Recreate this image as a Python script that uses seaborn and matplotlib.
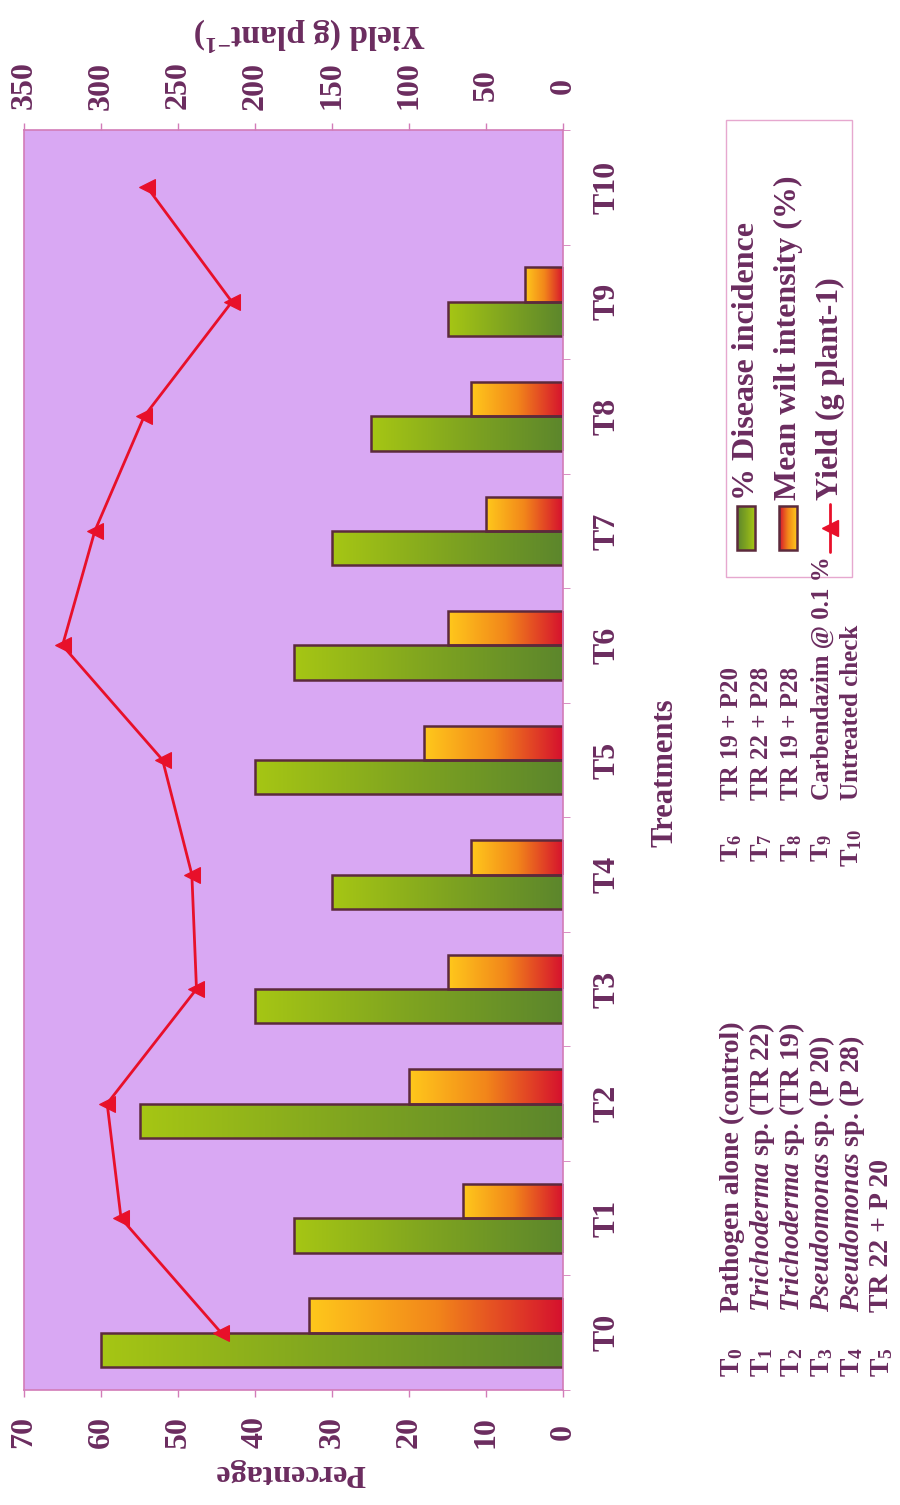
import matplotlib
matplotlib.use('Agg')
import matplotlib.pyplot as plt
import seaborn as sns
import numpy as np
import pandas as pd
from matplotlib.colors import LinearSegmentedColormap, to_rgba
from matplotlib.patches import Rectangle

treatments = ["T0", "T1", "T2", "T3", "T4", "T5", "T6", "T7", "T8", "T9", "T10"]
disease_incidence = [60, 35, 55, 40, 30, 40, 35, 30, 25, 15, 0]
wilt_intensity = [33, 13, 20, 15, 12, 18, 15, 10, 12, 5, 0]
yield_g = [222, 287, 296, 238, 241, 260, 325, 304, 272, 215, 270]

pct_ticks = [0, 10, 20, 30, 40, 50, 60, 70]
yield_ticks = [0, 50, 100, 150, 200, 250, 300, 350]

series_names = ["% Disease incidence", "Mean wilt intensity (%)", "Yield (g plant-1)"]

foot_left_ids = ["0", "1", "2", "3", "4", "5"]
foot_left_txt = ["Pathogen alone (control)",
                 r"$\mathit{Trichoderma}$ sp. (TR 22)",
                 r"$\mathit{Trichoderma}$ sp. (TR 19)",
                 r"$\mathit{Pseudomonas}$ sp. (P 20)",
                 r"$\mathit{Pseudomonas}$ sp. (P 28)",
                 "TR 22 + P 20"]
foot_right_ids = ["6", "7", "8", "9", "10"]
foot_right_txt = ["TR 19 + P20", "TR 22 + P28", "TR 19 + P28",
                  "Carbendazim @ 0.1 %", "Untreated check"]

# --- style ---
sns.set_style("white")
plt.rcParams['font.family'] = ['Liberation Serif', 'DejaVu Serif']
plt.rcParams['font.weight'] = 'bold'
plt.rcParams['mathtext.fontset'] = 'custom'
plt.rcParams['mathtext.rm'] = 'Liberation Serif:bold'
plt.rcParams['mathtext.bf'] = 'Liberation Serif:bold'
plt.rcParams['mathtext.it'] = 'Liberation Serif:italic:bold'

TXT = '#6b2c5f'
EDGE = '#5c2a3c'
FRAME = '#d27cb8'
BG = '#d9a8f3'
RED = '#e8102a'

green_cmap = LinearSegmentedColormap.from_list('g', ['#5c862c', '#7fa420', '#a6c614'])
orange_cmap = LinearSegmentedColormap.from_list('o', ['#d5102e', '#f2861a', '#ffc81c'])
GREEN_KEY = '#7fa520'
ORANGE_KEY = '#f08a10'

df = pd.DataFrame({
    'treatment': treatments * 2,
    'value': disease_incidence + wilt_intensity,
    'series': [series_names[0]] * len(treatments) + [series_names[1]] * len(treatments),
})

W, H = 900, 1505
fig = plt.figure(figsize=(W / 100, H / 100), dpi=100)
fig.patch.set_facecolor('white')

# plot area in pixels: x 24..563, y 130..1390
ax = fig.add_axes([24 / W, 1 - 1390 / H, (563 - 24) / W, 1260 / H])
ax.set_facecolor(BG)

sns.barplot(data=df, x='value', y='treatment', hue='series', order=treatments,
            hue_order=series_names[:2], orient='h', width=0.6, dodge=True,
            palette={series_names[0]: GREEN_KEY, series_names[1]: ORANGE_KEY},
            saturation=1, edgecolor=EDGE, linewidth=1.8, legend=False, ax=ax)

# gradient fills clipped to each bar
for p in list(ax.patches):
    w = p.get_width()
    if w <= 0:
        p.set_visible(False)
        continue
    fc = p.get_facecolor()
    cmap = green_cmap if np.allclose(fc, to_rgba(GREEN_KEY)) else orange_cmap
    x0, y0, h = p.get_x(), p.get_y(), p.get_height()
    grad = np.linspace(0, 1, 256).reshape(1, -1)
    im = ax.imshow(grad, extent=[x0, x0 + w, y0, y0 + h], aspect='auto',
                   cmap=cmap, zorder=p.get_zorder() - 0.01, interpolation='bilinear')
    im.set_clip_path(p)
    p.set_facecolor('none')

ax.set_xlim(70, 0)
ax.set_ylim(-0.5, 10.5)
ax.set_xlabel('')
ax.set_ylabel('')

# percentage axis (bottom)
ax.set_xticks(pct_ticks)
ax.set_xticklabels([str(t) for t in pct_ticks], rotation=90, va='center', ha='center',
                   fontsize=23, color=TXT)
ax.tick_params(axis='x', direction='out', length=5, width=1, color=FRAME, pad=25)

# treatments axis (right side)
ax.yaxis.tick_right()
ax.set_yticks(range(len(treatments)))
ax.set_yticklabels(treatments, rotation=90, va='center', ha='center', fontsize=23, color=TXT)
ax.set_yticks(np.arange(-0.5, len(treatments), 1), minor=True)
ax.tick_params(axis='y', which='major', length=0, pad=32)
ax.tick_params(axis='y', which='minor', length=5, direction='out', color=FRAME,
               right=True, left=False)
for s in ax.spines.values():
    s.set_color(FRAME)
    s.set_linewidth(1.2)

# yield axis (top)
ax2 = ax.twiny()
sns.lineplot(x=yield_g, y=list(range(len(treatments))), ax=ax2, sort=False,
             estimator=None, color=RED, linewidth=2, marker='<', markersize=11,
             markeredgecolor=RED, markerfacecolor=RED)
ax2.set_xlim(350, 0)
ax.set_ylim(-0.5, 10.5)
ax2.set_xlabel('')
ax2.set_ylabel('')
ax2.set_xticks(yield_ticks)
ax2.set_xticklabels([str(t) for t in yield_ticks], rotation=90, va='center', ha='center',
                    fontsize=23, color=TXT)
ax2.tick_params(axis='x', direction='out', length=5, width=1, color=FRAME, pad=27)
for s in ax2.spines.values():
    s.set_visible(False)

# --- overlay in pixel coordinates for titles, legend and footnote ---
lax = fig.add_axes([0, 0, 1, 1], zorder=5)
lax.set_xlim(0, W)
lax.set_ylim(H, 0)
lax.axis('off')
lax.patch.set_visible(False)

lax.text(290, 1472, 'Percentage', rotation=180, ha='center', va='center', fontsize=23, color=TXT)
lax.text(310, 34, r'Yield (g plant$^{\mathbf{-1}}$)', rotation=180, ha='center', va='center',
         fontsize=24, color=TXT)
lax.text(665, 773, 'Treatments', rotation=90, ha='center', va='center', fontsize=22, color=TXT)

# legend
lax.add_patch(Rectangle((726, 120), 126, 457, fill=False, edgecolor='#e6a8cf', lw=1))
leg_x = [746, 788, 830]
grad = np.linspace(0, 1, 64).reshape(1, -1)
for xc, cmap in zip(leg_x[:2], [green_cmap, orange_cmap]):
    lax.imshow(grad, extent=[xc - 9, xc + 9, 550, 506], aspect='auto', cmap=cmap, zorder=6)
    lax.add_patch(Rectangle((xc - 9, 506), 18, 44, fill=False, edgecolor=EDGE, lw=1.8, zorder=7))
lax.plot([leg_x[2], leg_x[2]], [504, 552], color=RED, lw=2, zorder=7)
lax.plot([leg_x[2]], [528], marker='<', ms=11, color=RED, zorder=7)
for xc, name in zip(leg_x, series_names):
    lax.text(xc, 500, name, rotation=90, ha='center', va='bottom', fontsize=23, color=TXT)

# footnote
for i, (tid, txt) in enumerate(zip(foot_left_ids, foot_left_txt)):
    xc = 732 + 30 * i
    lax.text(xc, 1362, r'T$_{\mathbf{%s}}$' % tid, rotation=90, ha='center', va='center',
             fontsize=20, color=TXT)
    lax.text(xc, 1312, txt, rotation=90, ha='center', va='bottom', fontsize=20, color=TXT)
for i, (tid, txt) in enumerate(zip(foot_right_ids, foot_right_txt)):
    xc = 732 + 30 * i
    lax.text(xc, 848, r'T$_{\mathbf{%s}}$' % tid, rotation=90, ha='center', va='center',
             fontsize=19, color=TXT)
    lax.text(xc, 800, txt, rotation=90, ha='center', va='bottom', fontsize=18, color=TXT)

lax.set_xlim(0, W)
lax.set_ylim(H, 0)

fig.savefig('out.png', dpi=100, facecolor='white')
